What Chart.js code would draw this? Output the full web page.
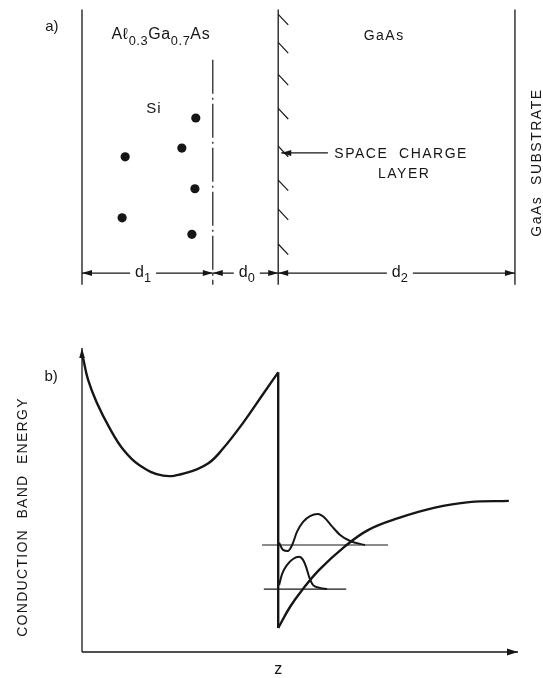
<!DOCTYPE html>
<html>
<head>
<meta charset="utf-8">
<title>Modulation doped heterostructure</title>
<script src="https://cdn.jsdelivr.net/npm/chart.js@4"></script>
<style>
  html, body { margin: 0; padding: 0; background: #fff; }
  #wrap { position: relative; width: 543px; height: 678px; }
  #panelA { position: absolute; left: 0; top: 0; }
  #panelB { position: absolute; left: 0; top: 300px; }
</style>
</head>
<body>
<div id="wrap">
  <canvas id="panelA" width="543" height="300"></canvas>
  <canvas id="panelB" width="543" height="378"></canvas>
</div>
<script>
// z runs 0..100 across both panels (AlGaAs surface -> end of axis)

// panel a) layer sketch, vertical unit = row in the sketch
const layerEdges = [0, 45, 99.3];      // AlGaAs surface, heterointerface, substrate
const dopingEdge = 30;                  // end of the Si doped region (dash-dot)
const layerRows = [5, 289];
const dopingRows = [57, 289];
const donorZ = [26.1, 22.9, 9.9, 25.9, 9.2, 25.2];
const donorRow = [117, 148, 157, 190, 220, 237];
const hatchRows = [16, 45, 78, 113, 152, 187, 217, 253];
const dimFrom = [0, 30, 45];
const dimTo = [30, 45, 99.3];
const dimSub = ['1', '0', '2'];
const dimLabelZ = [14.0, 37.8, 72.9];
const dimRow = 277;
const chargeArrowZ = [56.4, 45.7];
const chargeArrowRow = 153;

// panel b) conduction band edge, energy 0..100
const bandZ1 = [0.2, 1.4, 3.4, 6.4, 9.5, 13.1, 18.6, 24.1, 28.9, 32.1, 36.9, 41.7, 45.0];
const bandE1 = [97, 89.5, 82, 73.5, 66.5, 61.5, 58, 59, 62, 66.5, 75.3, 85.2, 92];
const stepE = [92, 7.9];
const bandZ2 = [45.0, 47.7, 50.5, 54.4, 60.1, 65.6, 72.7, 80.7, 88.8, 97.9];
const bandE2 = [7.9, 14.8, 20.4, 27.0, 34.5, 40.1, 44.1, 47.4, 49.3, 49.7];
const levelE = [20.7, 35.2];
const levelFrom = [41.7, 41.3];
const levelTo = [60.6, 70.2];
const psi0Z = [45.2, 45.9, 47.0, 48.4, 49.8, 50.7, 51.4, 52.1, 53.0, 54.6, 56.2];
const psi0E = [22.0, 25.7, 28.6, 30.6, 31.3, 30.3, 28.0, 24.7, 22.0, 21.1, 20.7];
const psi1Z = [45.2, 46.1, 47.2, 48.2, 49.3, 50.7, 52.3, 54.1, 55.7, 57.3, 59.2, 61.5, 64.9];
const psi1E = [35.9, 33.6, 33.2, 35.2, 39.5, 42.8, 44.7, 45.4, 44.1, 41.4, 38.5, 36.5, 35.2];

const ink = '#161616';
const family = '"Liberation Sans", Arial, sans-serif';

function pts(xs, ys) {
    return xs.map((x, i) => ({ x: x, y: ys[i] }));
}

function lineSet(points, width, extra) {
    return Object.assign({
        data: points,
        showLine: true,
        borderColor: ink,
        backgroundColor: ink,
        borderWidth: width,
        pointRadius: 0,
        pointHoverRadius: 0,
        tension: 0,
        fill: false,
        clip: false
    }, extra || {});
}

// filled arrow heads on the ends of datasets flagged with arrow: 'start' | 'end' | 'both'
const arrowHeads = {
    id: 'arrowHeads',
    afterDatasetsDraw(chart) {
        const ctx = chart.ctx;
        chart.data.datasets.forEach((ds, i) => {
            if (!ds.arrow) return;
            const els = chart.getDatasetMeta(i).data;
            const len = ds.arrowLen || 10, half = ds.arrowHalf || 3;
            const heads = [];
            if (ds.arrow === 'end' || ds.arrow === 'both') heads.push([els[els.length - 1], els[els.length - 2]]);
            if (ds.arrow === 'start' || ds.arrow === 'both') heads.push([els[0], els[1]]);
            heads.forEach(([tip, from]) => {
                const a = Math.atan2(tip.y - from.y, tip.x - from.x);
                ctx.save();
                ctx.translate(tip.x, tip.y);
                ctx.rotate(a);
                ctx.beginPath();
                ctx.moveTo(0, 0);
                ctx.lineTo(-len, -half);
                ctx.lineTo(-len, half);
                ctx.closePath();
                ctx.fillStyle = ink;
                ctx.fill();
                ctx.restore();
            });
        });
    }
};

// text with subscripts, placed in data units through the chart's scales
function textPlugin(items) {
    return {
        id: 'sketchText',
        afterDatasetsDraw(chart) {
            const ctx = chart.ctx;
            const xs = chart.scales.x, ys = chart.scales.y;
            items.forEach(it => {
                const cx = xs.getPixelForValue(it.x);
                const cy = ys.getPixelForValue(it.y);
                const size = it.size || 14;
                const subSize = size * (it.subScale || 0.72);
                const sp = it.spacing || 0;
                const parts = it.parts || [[it.text, false]];
                ctx.save();
                ctx.translate(cx, cy);
                if (it.rotate) ctx.rotate(-Math.PI / 2);
                ctx.letterSpacing = sp + 'px';
                ctx.textBaseline = 'middle';
                ctx.textAlign = 'left';
                const widths = parts.map(([t, sub]) => {
                    ctx.font = (sub ? subSize : size) + 'px ' + family;
                    return ctx.measureText(t).width;
                });
                const total = widths.reduce((a, b) => a + b, 0);
                if (it.knockout) {
                    ctx.fillStyle = '#fff';
                    ctx.fillRect(-total / 2 - 5, -size * 0.6, total + 10, size * 1.4);
                }
                let x = -total / 2;
                ctx.fillStyle = ink;
                parts.forEach(([t, sub], k) => {
                    ctx.font = (sub ? subSize : size) + 'px ' + family;
                    ctx.fillText(t, x, sub ? size * 0.4 : 0);
                    x += widths[k];
                });
                ctx.restore();
            });
        }
    };
}

// ---------- panel a ----------
const datasetsA = [];
layerEdges.forEach(z => {
    datasetsA.push(lineSet([{ x: z, y: layerRows[0] }, { x: z, y: layerRows[1] }], 1.3));
});
datasetsA.push(lineSet([{ x: dopingEdge, y: dopingRows[0] }, { x: dopingEdge, y: dopingRows[1] }], 1.2,
    { borderDash: [34, 4, 2, 4] }));
hatchRows.forEach(r => {
    datasetsA.push(lineSet([{ x: layerEdges[1], y: r - 6 }, { x: layerEdges[1] + 2.3, y: r + 5 }], 1.2));
});
dimFrom.forEach((a, i) => {
    datasetsA.push(lineSet([{ x: a, y: dimRow }, { x: dimTo[i], y: dimRow }], 1.1,
        { arrow: 'both', arrowLen: 10, arrowHalf: 3 }));
});
datasetsA.push(lineSet(pts(chargeArrowZ, [chargeArrowRow, chargeArrowRow]), 1.2,
    { arrow: 'end', arrowLen: 10, arrowHalf: 3 }));
datasetsA.push({
    data: pts(donorZ, donorRow),
    showLine: false,
    pointRadius: 4.6,
    pointBackgroundColor: ink,
    pointBorderColor: ink,
    pointBorderWidth: 0,
    clip: false
});

const labelsA = [
    { text: 'a)', x: -6.9, y: 23, size: 15 },
    { parts: [['Aℓ', false], ['0.3', true], ['Ga', false], ['0.7', true], ['As', false]],
      x: 18.1, y: 31, size: 16, subScale: 0.8, spacing: 0.6 },
    { text: 'GaAs', x: 69.3, y: 33, size: 14, spacing: 1.5 },
    { text: 'Si', x: 16.5, y: 108, size: 15, spacing: 1 },
    { text: 'SPACE  CHARGE', x: 73.2, y: 154, size: 14, spacing: 1.5 },
    { text: 'LAYER', x: 73.9, y: 175, size: 14, spacing: 1.5 },
    { text: 'GaAs  SUBSTRATE', x: 104.4, y: 163, size: 14, spacing: 1.5, rotate: true }
];
dimLabelZ.forEach((z, i) => {
    labelsA.push({ parts: [['d', false], [dimSub[i], true]], x: z, y: dimRow - 1, size: 16, subScale: 0.8, knockout: true });
});

const baseOptions = (padding, yMin, yMax, yRev) => ({
    responsive: false,
    animation: false,
    events: [],
    layout: { padding: padding },
    scales: {
        x: { type: 'linear', display: false, min: 0, max: 100 },
        y: { type: 'linear', display: false, min: yMin, max: yMax, reverse: yRev }
    },
    plugins: { legend: { display: false }, tooltip: { enabled: false } }
});

new Chart(document.getElementById('panelA'), {
    type: 'scatter',
    data: { datasets: datasetsA },
    options: baseOptions({ left: 82, right: 25, top: 0, bottom: 0 }, 0, 300, true),
    plugins: [arrowHeads, textPlugin(labelsA)]
});

// ---------- panel b ----------
const datasetsB = [
    lineSet([{ x: 0, y: 0 }, { x: 0, y: 100 }], 1.3, { arrow: 'end', arrowLen: 10, arrowHalf: 2.8 }),
    lineSet([{ x: 0, y: 0 }, { x: 100, y: 0 }], 1.3, { arrow: 'end', arrowLen: 11, arrowHalf: 3.5 }),
    lineSet(pts(bandZ1, bandE1), 2.4, { tension: 0.4 }),
    lineSet([{ x: 45, y: stepE[0] }, { x: 45, y: stepE[1] }], 2.4),
    lineSet(pts(bandZ2, bandE2), 2.4, { tension: 0.4 }),
    lineSet(pts(psi0Z, psi0E), 2.0, { cubicInterpolationMode: 'monotone' }),
    lineSet(pts(psi1Z, psi1E), 2.0, { cubicInterpolationMode: 'monotone' })
];
levelE.forEach((e, i) => {
    datasetsB.push(lineSet([{ x: levelFrom[i], y: e }, { x: levelTo[i], y: e }], 1.2));
});

const labelsB = [
    { text: 'b)', x: -7.1, y: 90.5, size: 15 },
    { text: 'CONDUCTION  BAND  ENERGY', x: -13.5, y: 44.4, size: 14, spacing: 1.3, rotate: true },
    { text: 'z', x: 45, y: -5.9, size: 16 }
];

new Chart(document.getElementById('panelB'), {
    type: 'scatter',
    data: { datasets: datasetsB },
    options: baseOptions({ left: 82, right: 25, top: 48, bottom: 26 }, 0, 100, false),
    plugins: [arrowHeads, textPlugin(labelsB)]
});
</script>
</body>
</html>
